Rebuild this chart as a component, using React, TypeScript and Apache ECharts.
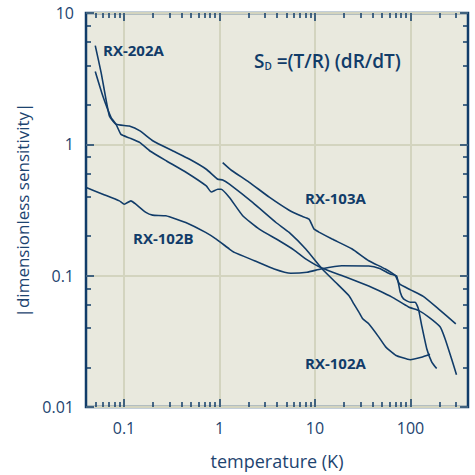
import React, { useEffect, useRef } from "react";
import * as echarts from "echarts";

// Temperature (K) and |dimensionless sensitivity|
const rx202aT = [0.05, 0.06, 0.0733, 0.0826, 0.093, 0.1135, 0.147, 0.187, 0.279, 0.45, 0.727, 0.82, 0.96, 1.04, 1.27, 1.75, 2.61, 4.22, 6.04, 8.06, 11.8, 21.0, 36.5, 46.4, 63.4, 95.3, 121, 154, 204, 230, 269, 303];
const rx202aS = [3.58, 2.33, 1.6, 1.42, 1.19, 1.12, 1.03, 0.89, 0.747, 0.61, 0.482, 0.434, 0.455, 0.455, 0.394, 0.286, 0.226, 0.1844, 0.1567, 0.1338, 0.1144, 0.0977, 0.0835, 0.0772, 0.069, 0.0578, 0.0544, 0.0486, 0.0408, 0.0331, 0.0233, 0.0176];

const rx102aT = [0.05, 0.0576, 0.0703, 0.0826, 0.1135, 0.147, 0.202, 0.326, 0.487, 0.727, 0.96, 1.08, 1.27, 2.22, 3.9, 5.36, 8.0, 11.9, 16.4, 22.6, 25.5, 28.7, 31.6, 36.5, 46.4, 54.9, 69.8, 99.3, 130, 160];
const rx102aS = [5.65, 3.52, 1.64, 1.42, 1.377, 1.266, 1.06, 0.89, 0.769, 0.646, 0.542, 0.536, 0.497, 0.361, 0.254, 0.2136, 0.1595, 0.1124, 0.0891, 0.0705, 0.061, 0.053, 0.0469, 0.043, 0.0342, 0.0287, 0.0248, 0.0229, 0.0239, 0.0252];

const rx103aT = [1.08, 1.33, 2.05, 3.32, 5.36, 7.1, 8.66, 9.76, 11.0, 15.1, 24.5, 36.5, 54.5, 69.3, 76.7, 100, 136, 196, 298];
const rx103aS = [0.726, 0.635, 0.514, 0.396, 0.315, 0.2855, 0.2695, 0.2262, 0.2147, 0.19, 0.1595, 0.13, 0.1124, 0.1, 0.0865, 0.0779, 0.0695, 0.0559, 0.043];

const rx102bT = [0.0402, 0.06, 0.0894, 0.1007, 0.118, 0.133, 0.1695, 0.199, 0.274, 0.443, 0.715, 0.924, 1.27, 1.43, 2.32, 3.74, 5.58, 8.25, 11.5, 19.1, 36.5, 47.5, 61.4, 71.5, 78.1, 84.5, 99.3, 112, 121, 131, 148, 167, 188];
const rx102bS = [0.469, 0.417, 0.371, 0.35, 0.371, 0.35, 0.303, 0.289, 0.2855, 0.2543, 0.2136, 0.19, 0.1595, 0.1505, 0.13, 0.1124, 0.1043, 0.1061, 0.1124, 0.119, 0.1185, 0.1135, 0.103, 0.0995, 0.0748, 0.0665, 0.0628, 0.0628, 0.0559, 0.0417, 0.0278, 0.022, 0.0196];

// Axis ticks
const xMajorTicks = [0.1, 1, 10, 100];
const xMinorTicks = [0.05, 0.06, 0.07, 0.08, 0.09, 0.2, 0.3, 0.4, 0.5, 0.6, 0.7, 0.8, 0.9, 2, 3, 4, 5, 6, 7, 8, 9, 20, 30, 40, 50, 60, 70, 80, 90, 200, 300];
const yMajorTicks = [0.01, 0.1, 1, 10];
const yMinorTicks = [0.02, 0.04, 0.06, 0.08, 0.2, 0.4, 0.6, 0.8, 2, 4, 6, 8];

const NAVY = "#113c69";
const TEXT = "#1d4470";
const FONT = "Open Sans";

const pairs = (t: number[], s: number[]) => t.map((v, i) => [v, s[i]]);
const fmt = (v: number) => String(+Number(v).toPrecision(3));

export default function App() {
  const ref = useRef<HTMLDivElement>(null);
  useEffect(() => {
    if (!ref.current) return;
    const chart = echarts.init(ref.current, undefined, { renderer: "svg" });
    const tickStyle = { color: NAVY, width: 1.5 };
    const baseX = { type: "log", min: 0.04, max: 400, logBase: 10, axisLine: { show: false }, splitLine: { show: false }, axisLabel: { show: false } };
    const baseY = { type: "log", min: 0.01, max: 10, logBase: 10, axisLine: { show: false }, splitLine: { show: false }, axisLabel: { show: false } };
    const lineSeries = (name: string, t: number[], s: number[]) => ({
      name,
      type: "line",
      data: pairs(t, s),
      showSymbol: false,
      smooth: 0.15,
      lineStyle: { color: NAVY, width: 1.6 },
      xAxisIndex: 0,
      yAxisIndex: 0,
      z: 5,
    });
    const labelFont = `bold 15px "${FONT}"`;
    chart.setOption({
      animation: false,
      textStyle: { fontFamily: FONT },
      grid: {
        left: 86,
        top: 13,
        right: 7,
        bottom: 67,
        show: true,
        backgroundColor: "#e9e9de",
        borderColor: NAVY,
        borderWidth: 2.5,
        z: 0,
      },
      xAxis: [
        { ...baseX, position: "bottom", axisTick: { inside: true, length: 5, customValues: xMinorTicks, lineStyle: tickStyle } },
        {
          ...baseX,
          position: "bottom",
          axisTick: { inside: true, length: 8, customValues: xMajorTicks, lineStyle: tickStyle },
          splitLine: { show: true, lineStyle: { color: "#d3d4bf", width: 2 } },
          axisLabel: { show: true, customValues: xMajorTicks, formatter: fmt, color: TEXT, fontSize: 16, margin: 13, fontFamily: FONT },
          name: "temperature (K)",
          nameLocation: "middle",
          nameGap: 45,
          nameTextStyle: { color: TEXT, fontSize: 18, fontFamily: FONT },
        },
        { ...baseX, position: "top", axisTick: { inside: true, length: 5, customValues: xMinorTicks, lineStyle: tickStyle } },
        { ...baseX, position: "top", axisTick: { inside: true, length: 8, customValues: xMajorTicks, lineStyle: tickStyle } },
      ],
      yAxis: [
        { ...baseY, position: "left", axisTick: { inside: true, length: 5, customValues: yMinorTicks, lineStyle: tickStyle } },
        {
          ...baseY,
          position: "left",
          axisTick: { inside: true, length: 8, customValues: yMajorTicks, lineStyle: tickStyle },
          splitLine: { show: true, lineStyle: { color: "#d3d4bf", width: 2 } },
          axisLabel: { show: true, customValues: yMajorTicks, formatter: fmt, color: TEXT, fontSize: 16, margin: 12, fontFamily: FONT },
          name: "|dimensionless sensitivity|",
          nameLocation: "middle",
          nameGap: 50,
          nameTextStyle: { color: TEXT, fontSize: 17, fontFamily: FONT },
        },
        { ...baseY, position: "right", axisTick: { inside: true, length: 5, customValues: yMinorTicks, lineStyle: tickStyle } },
        { ...baseY, position: "right", axisTick: { inside: true, length: 8, customValues: yMajorTicks, lineStyle: tickStyle } },
      ],
      series: [
        lineSeries("RX-202A", rx202aT, rx202aS),
        lineSeries("RX-102A", rx102aT, rx102aS),
        lineSeries("RX-103A", rx103aT, rx103aS),
        lineSeries("RX-102B", rx102bT, rx102bS),
      ],
      graphic: [
        { type: "text", left: 103, top: 42, z: 10, style: { text: "RX-202A", fill: NAVY, font: labelFont } },
        { type: "text", left: 305, top: 190, z: 10, style: { text: "RX-103A", fill: NAVY, font: labelFont } },
        { type: "text", left: 133, top: 230, z: 10, style: { text: "RX-102B", fill: NAVY, font: labelFont } },
        { type: "text", left: 305, top: 355, z: 10, style: { text: "RX-102A", fill: NAVY, font: labelFont } },
        {
          type: "text",
          left: 254,
          top: 51,
          z: 10,
          style: {
            text: "{a|S}{b|D}{a| =(T/R) (dR/dT)}",
            rich: {
              a: { fill: NAVY, fontFamily: FONT, fontWeight: 600, fontSize: 19 },
              b: { fill: NAVY, fontFamily: FONT, fontWeight: 600, fontSize: 10, padding: [11, 0, 0, 0] },
            },
          },
        },
      ],
    });
    return () => chart.dispose();
  }, []);
  return <div ref={ref} style={{ width: 475, height: 475, position: "absolute", left: 0, top: 0 }} />;
}
